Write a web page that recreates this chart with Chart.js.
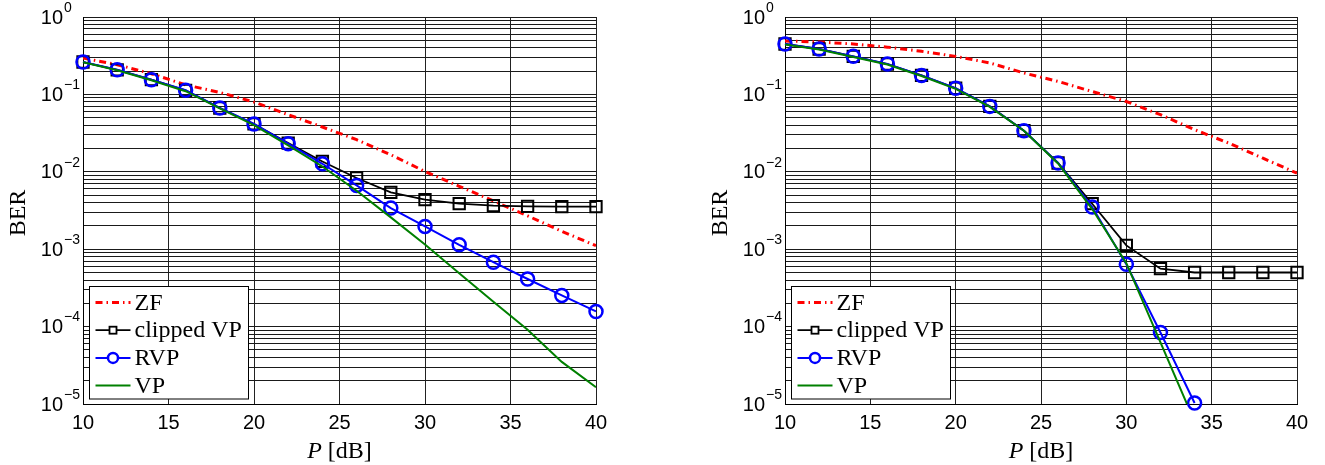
<!DOCTYPE html>
<html>
<head>
<meta charset="utf-8">
<script src="https://cdn.jsdelivr.net/npm/chart.js@4/dist/chart.umd.min.js"></script>
<style>
  body { margin: 0; background: #fff; overflow: hidden; }
  .wrap { position: absolute; top: 0; height: 465px; }
</style>
</head>
<body>
<div class="wrap" style="left:0px;width:620px"><canvas id="berA" width="620" height="465"></canvas></div>
<div class="wrap" style="left:702px;width:619px"><canvas id="berB" width="619" height="465"></canvas></div>
<script>
// transmit power grid (dB)
const pdB = [10, 12, 14, 16, 18, 20, 22, 24, 26, 28, 30, 32, 34, 36, 38, 40];
const xTicks = [10, 15, 20, 25, 30, 35, 40];
const decades = [-5, -4, -3, -2, -1, 0];
const names = ['ZF', 'clipped VP', 'RVP', 'VP'];

// left panel
const zfA   = [0.295, 0.242, 0.185, 0.133, 0.106, 0.0797, 0.0547, 0.0379, 0.026, 0.0166, 0.0101, 0.0065, 0.0042, 0.0027, 0.0017, 0.00111];
const clipA = [0.262, 0.208, 0.155, 0.113, 0.0667, 0.0415, 0.0235, 0.0136, 0.00832, 0.00542, 0.00436, 0.00387, 0.00365, 0.00357, 0.00354, 0.00354];
const rvpA  = [0.262, 0.208, 0.155, 0.113, 0.0667, 0.0415, 0.0231, 0.0127, 0.00667, 0.0034, 0.00197, 0.00114, 0.00068, 0.000412, 0.000253, 0.000157];
const vpA   = [0.26, 0.205, 0.152, 0.11, 0.066, 0.040, 0.022, 0.0117, 0.0057, 0.00258, 0.00115, 0.00049, 0.00021, 0.000091, 0.000035, 0.0000165];

// right panel
const zfB   = [0.49, 0.475, 0.448, 0.408, 0.36, 0.31, 0.255, 0.189, 0.147, 0.109, 0.081, 0.0547, 0.035, 0.0235, 0.015, 0.0096];
const clipB = [0.448, 0.386, 0.31, 0.247, 0.176, 0.12, 0.070, 0.034, 0.013, 0.00387, 0.00112, 0.00056, 0.0005, 0.0005, 0.0005, 0.0005];
const rvpB  = [0.448, 0.386, 0.31, 0.247, 0.176, 0.12, 0.070, 0.034, 0.013, 0.0035, 0.00064, 0.000084, 0.0000103];
const vpB   = [0.44, 0.38, 0.305, 0.243, 0.173, 0.118, 0.069, 0.034, 0.0128, 0.0033, 0.00066, 0.0000625, 0.0000059];

const pts = (ys) => ys.map((y, i) => ({x: pdB[i], y: y}));

function makeSets(zf, clip, rvp, vp) {
  return [
    {label: names[0], data: pts(zf), borderColor: '#ff0000', borderWidth: 3, borderDash: [7, 4, 1.5, 4],
     pointRadius: 0, order: 4},
    {label: names[1], data: pts(clip), borderColor: '#000000', borderWidth: 1.8, pointStyle: 'rect',
     pointRadius: 8, pointBorderWidth: 2, pointBackgroundColor: 'rgba(0,0,0,0)', order: 3, clip: false},
    {label: names[2], data: pts(rvp), borderColor: '#0000ff', borderWidth: 2, pointStyle: 'circle',
     pointRadius: 6.5, pointBorderWidth: 2.5, pointBackgroundColor: 'rgba(0,0,0,0)', order: 2, clip: false},
    {label: names[3], data: pts(vp), borderColor: '#008000', borderWidth: 2, pointRadius: 0, order: 1}
  ];
}

// y labels with superscripts, axis titles and the boxed legend
const decor = {
  id: 'decor',
  afterDraw(chart) {
    const ctx = chart.ctx;
    const area = chart.chartArea;
    const ys = chart.scales.y;
    ctx.save();
    ctx.fillStyle = '#000';
    decades.forEach(e => {
      const y = ys.getPixelForValue(Math.pow(10, e));
      ctx.font = '20px "Liberation Sans", Arial, sans-serif';
      ctx.textAlign = 'right';
      ctx.textBaseline = 'middle';
      ctx.fillText('10', area.left - 20, y + 1);
      ctx.font = '14px "Liberation Sans", Arial, sans-serif';
      ctx.textAlign = 'left';
      ctx.fillText(e === 0 ? '0' : '\u2212' + (-e), area.left - 19, y - 9);
    });

    // axis titles
    ctx.font = '24px "Liberation Serif", "Times New Roman", serif';
    ctx.textAlign = 'center';
    ctx.textBaseline = 'middle';
    ctx.save();
    ctx.translate(area.left - 64, 213);
    ctx.rotate(-Math.PI / 2);
    ctx.fillText('BER', 0, 0);
    ctx.restore();

    const cx = (area.left + area.right) / 2;
    ctx.font = 'italic 24px "Liberation Serif", "Times New Roman", serif';
    const wP = ctx.measureText('P').width;
    ctx.font = '24px "Liberation Serif", "Times New Roman", serif';
    const wRest = ctx.measureText(' [dB]').width;
    const x0 = cx - (wP + wRest) / 2;
    ctx.textAlign = 'left';
    ctx.font = 'italic 24px "Liberation Serif", "Times New Roman", serif';
    ctx.fillText('P', x0, 452);
    ctx.font = '24px "Liberation Serif", "Times New Roman", serif';
    ctx.fillText(' [dB]', x0 + wP, 452);

    // legend
    const bx = area.left + 6.5, by = area.bottom - 117.5, bw = 159, bh = 112.5;
    ctx.fillStyle = '#fff';
    ctx.fillRect(bx, by, bw, bh);
    ctx.strokeStyle = '#000';
    ctx.lineWidth = 1;
    ctx.strokeRect(bx, by, bw, bh);
    chart.data.datasets.forEach((ds, i) => {
      const ry = by + 16 + i * 27.7;
      ctx.strokeStyle = ds.borderColor;
      ctx.lineWidth = ds.borderWidth;
      ctx.setLineDash(ds.borderDash || []);
      ctx.beginPath();
      ctx.moveTo(bx + 6, ry);
      ctx.lineTo(bx + 41, ry);
      ctx.stroke();
      ctx.setLineDash([]);
      const mx = bx + 23.5;
      if (ds.pointStyle === 'rect') {
        ctx.fillStyle = '#fff';
        ctx.fillRect(mx - 3.5, ry - 3.5, 7, 7);
        ctx.lineWidth = 1.8;
        ctx.strokeRect(mx - 3.5, ry - 3.5, 7, 7);
      } else if (ds.pointStyle === 'circle') {
        ctx.fillStyle = '#fff';
        ctx.lineWidth = 2.5;
        ctx.beginPath();
        ctx.arc(mx, ry, 5, 0, Math.PI * 2);
        ctx.fill();
        ctx.stroke();
      }
      ctx.fillStyle = '#000';
      ctx.font = '24px "Liberation Serif", "Times New Roman", serif';
      ctx.textAlign = 'left';
      ctx.textBaseline = 'middle';
      ctx.fillText(ds.label, bx + 45, ry + 1);
    });
    ctx.restore();
  }
};

function buildChart(id, sets) {
  return new Chart(document.getElementById(id).getContext('2d'), {
    type: 'line',
    data: {datasets: sets},
    plugins: [decor],
    options: {
      responsive: false,
      animation: false,
      layout: {padding: {left: 0, right: 24, top: 17, bottom: 0}},
      plugins: {legend: {display: false}, tooltip: {enabled: false}},
      elements: {line: {tension: 0}},
      scales: {
        x: {
          type: 'linear', min: 10, max: 40,
          afterBuildTicks: (s) => { s.ticks = xTicks.map(v => ({value: v})); },
          afterFit: (s) => { s.height = 61; },
          ticks: {color: '#000', padding: 7, font: {family: '"Liberation Sans", Arial, sans-serif', size: 20}},
          grid: {color: '#222', lineWidth: 1, drawTicks: false},
          border: {color: '#000', width: 1}
        },
        y: {
          type: 'logarithmic', min: 1e-5, max: 1,
          afterBuildTicks: (s) => {
            const t = [];
            decades.forEach(e => {
              if (e === 0) { t.push({value: 1}); return; }
              for (let k = 1; k <= 9; k++) t.push({value: k * Math.pow(10, e)});
            });
            s.ticks = t;
          },
          afterFit: (s) => { s.width = 83; },
          ticks: {display: false, autoSkip: false},
          grid: {color: '#1a1a1a', lineWidth: 1, drawTicks: false},
          border: {color: '#000', width: 1}
        }
      }
    }
  });
}

buildChart('berA', makeSets(zfA, clipA, rvpA, vpA));
buildChart('berB', makeSets(zfB, clipB, rvpB, vpB));
</script>
</body>
</html>
